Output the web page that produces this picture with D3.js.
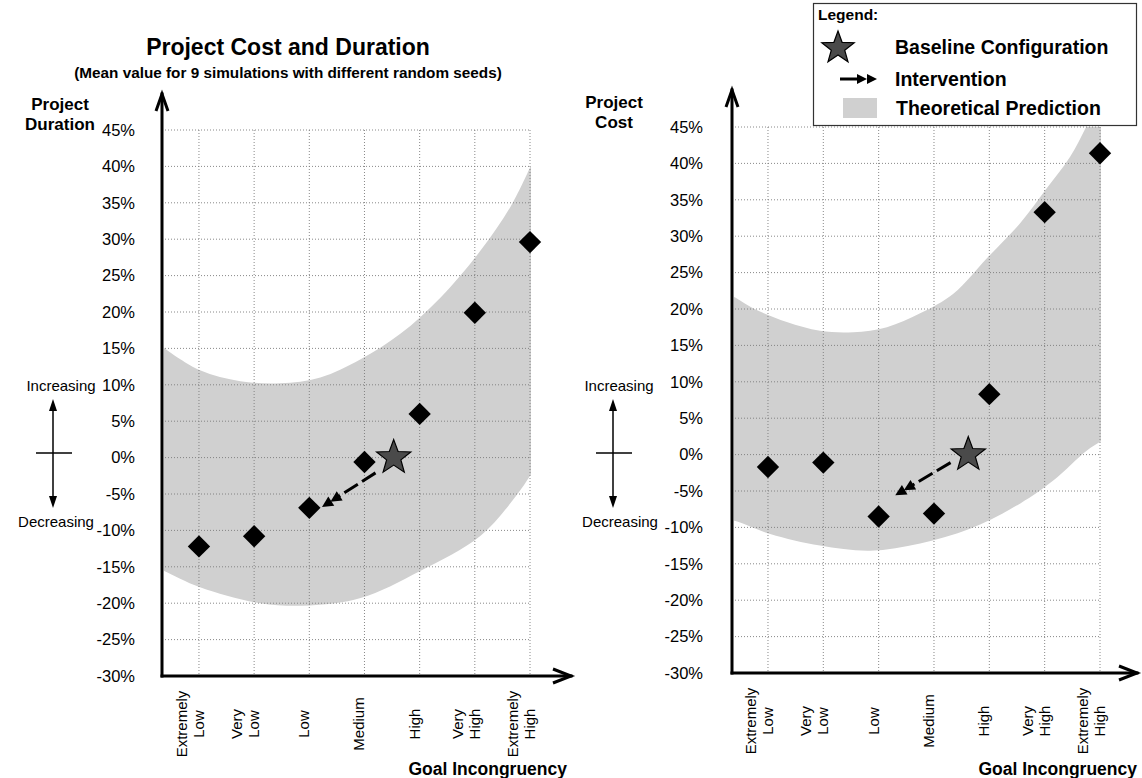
<!DOCTYPE html>
<html><head><meta charset="utf-8">
<script src="https://cdn.jsdelivr.net/npm/d3@7"></script>
<style>
html,body{margin:0;padding:0;background:#fff;}
svg{display:block;font-family:"Liberation Sans",Arial,Helvetica,sans-serif;}
</style></head>
<body>
<svg id="chart" width="1142" height="778"></svg>
<script>
// ---------------- DATA ----------------
const categoryLines = [["Extremely","Low"],["Very","Low"],["Low"],["Medium"],["High"],["Very","High"],["Extremely","High"]];
const yTicks = [45,40,35,30,25,20,15,10,5,0,-5,-10,-15,-20,-25,-30];

const durationValues = [-12.2, -10.8, -6.9, -0.6, 6.0, 19.9, 29.6];
const costValues     = [-1.7, -1.1, -8.5, -8.1, 8.3, 33.3, 41.4];

// baseline configuration (category position, value)
const durationBaseline = [3.53, 0];
const costBaseline     = [3.62, 0];

// intervention arrows: [start, tip] as [category position, value]
const durationArrow = [[3.2, -2.1], [2.23, -6.8]];
const costArrow     = [[3.3, -1.1], [2.3, -5.6]];

// theoretical prediction band boundaries [category position, value]
const durationBandUpper = [[-0.7,15.5],[-0.62,15],[0.02,12],[0.75,10.5],[1.47,10.2],[2.2,11],[2.93,13.5],[3.65,17],[4.38,22],[5.11,28.5],[5.65,34.5],[6.04,40.5]];
const durationBandLower = [[-0.7,-15.3],[-0.62,-15.6],[0.02,-17.8],[1.11,-20],[2.01,-20.3],[2.93,-19.3],[4.0,-15.6],[5.11,-10.7],[5.83,-4.4],[6.04,-2]];
const costBandUpper = [[-0.7,22],[-0.6,21.6],[-0.27,20.1],[0.34,18.2],[0.94,17],[1.54,16.8],[2.15,17.5],[2.75,19.4],[3.35,22.1],[3.96,27],[4.56,31.8],[5.01,36.3],[5.46,40.9],[5.85,46.5],[6.1,50]];
const costBandLower = [[-0.7,-9],[-0.6,-9.1],[0.04,-10.9],[0.94,-12.5],[1.85,-13.2],[2.75,-12.2],[3.65,-10.2],[4.56,-6.7],[5.15,-3.6],[5.77,0.6],[6.1,2.2]];

// ---------------- DRAW ----------------
const svg = d3.select("#chart");
const BAND = "#d0d0d0";

function starPath(cx, cy, R, r){
  const pts=[];
  for(let k=0;k<10;k++){
    const a = -Math.PI/2 + k*Math.PI/5;
    const rad = k%2===0?R:r;
    pts.push([cx+rad*Math.cos(a), cy+rad*Math.sin(a)]);
  }
  return "M"+pts.map(p=>p[0].toFixed(1)+","+p[1].toFixed(1)).join("L")+"Z";
}

function arrowHead(g, tipX, tipY, ang, len, half){
  const bx = tipX - len*Math.cos(ang), by = tipY - len*Math.sin(ang);
  const px = -Math.sin(ang), py = Math.cos(ang);
  g.append("path")
   .attr("d", `M${tipX},${tipY}L${bx+px*half},${by+py*half}L${bx-px*half},${by-py*half}Z`)
   .attr("fill","#000");
}

function panel(cfg){
  const x = d3.scaleLinear().domain([cfg.axisPos, 6]).range([cfg.axisX, cfg.rightX]);
  const y = d3.scaleLinear().domain([-30, 45]).range([cfg.bottomY, cfg.topY]);
  const g = svg.append("g");

  const clipId = "clip"+cfg.id;
  svg.append("clipPath").attr("id",clipId).append("rect")
    .attr("x", cfg.axisX+2).attr("y", y(45)).attr("width", x(6)-cfg.axisX-2+1).attr("height", y(-30)-y(45));

  // band
  const line = d3.line().x(d=>x(d[0])).y(d=>y(d[1])).curve(d3.curveCatmullRom.alpha(0.5));
  const up = line(cfg.bandUpper);
  const lo = line(cfg.bandLower.slice().reverse());
  g.append("path").attr("d", up + "L" + lo.slice(1) + "Z")
    .attr("fill", BAND).attr("clip-path", `url(#${clipId})`);

  // grid
  const grid = g.append("g").attr("stroke","#7a7a7a").attr("stroke-width",0.9).attr("stroke-dasharray","1,2");
  yTicks.forEach(t=>{
    grid.append("line").attr("x1", cfg.axisX).attr("x2", x(6)).attr("y1", y(t)).attr("y2", y(t));
  });
  d3.range(7).forEach(i=>{
    grid.append("line").attr("x1", x(i)).attr("x2", x(i)).attr("y1", y(45)).attr("y2", y(-30));
  });

  // y tick labels via axis
  const ax = g.append("g").attr("transform",`translate(${cfg.axisX},0)`)
    .call(d3.axisLeft(y).tickValues(yTicks).tickSize(0).tickPadding(cfg.tickPad).tickFormat(d=>d+"%"));
  ax.select(".domain").remove();
  ax.selectAll("text").attr("font-size",16.5).attr("font-family","Liberation Sans, Arial, sans-serif").attr("fill","#000");

  // axes lines with arrows
  const axes = g.append("g").attr("stroke","#000").attr("stroke-width",3).attr("fill","none").attr("stroke-linecap","square");
  axes.append("line").attr("x1",cfg.axisX).attr("x2",cfg.axisX).attr("y1",y(-30)).attr("y2",cfg.yTip);
  axes.append("line").attr("x1",cfg.axisX).attr("x2",cfg.xTip).attr("y1",y(-30)).attr("y2",y(-30));
  axes.append("path").attr("d",`M${cfg.axisX-6},${cfg.yTip+17}L${cfg.axisX},${cfg.yTip}L${cfg.axisX+6},${cfg.yTip+17}`).attr("stroke-linecap","butt");
  axes.append("path").attr("d",`M${cfg.xTip-18},${y(-30)-7}L${cfg.xTip},${y(-30)}L${cfg.xTip-18},${y(-30)+7}`).attr("stroke-linecap","butt");

  // diamonds
  const sym = d3.symbol().type(d3.symbolSquare).size(250);
  g.selectAll(".dia").data(cfg.values).enter().append("path")
    .attr("d", sym)
    .attr("transform",(d,i)=>`translate(${x(i)},${y(d)}) rotate(45)`)
    .attr("fill","#000");

  // intervention arrow
  const [s,t] = cfg.arrow;
  const sx=x(s[0]), sy=y(s[1]), tx=x(t[0]), ty=y(t[1]);
  const ang = Math.atan2(ty-sy, tx-sx);
  const ag = g.append("g");
  ag.append("line").attr("x1",sx).attr("y1",sy)
    .attr("x2",tx-14*Math.cos(ang)).attr("y2",ty-14*Math.sin(ang))
    .attr("stroke","#000").attr("stroke-width",3).attr("stroke-dasharray","16,5");
  arrowHead(ag, tx, ty, ang, 11, 5.5);
  arrowHead(ag, tx-10*Math.cos(ang), ty-10*Math.sin(ang), ang, 11, 5.5);

  // baseline star
  g.append("path").attr("d", starPath(x(cfg.baseline[0]), y(cfg.baseline[1]), 18, 7.5))
    .attr("fill","#4a4a4a").attr("stroke","#000").attr("stroke-width",1.2);

  // x category labels (rotated)
  const lab = g.append("g").attr("font-size",15).attr("fill","#000");
  categoryLines.forEach((lines,i)=>{
    const cx = x(i);
    const offs = lines.length===2 ? [-12, 5] : [0];
    lines.forEach((txt,k)=>{
      lab.append("text").text(txt)
        .attr("transform",`translate(${cx+offs[k]},${cfg.labelY}) rotate(-90)`)
        .attr("text-anchor","middle");
    });
  });

  // x axis title
  g.append("text").text("Goal Incongruency").attr("x", cfg.xTitleRight).attr("y", 775)
    .attr("text-anchor","end").attr("font-weight","bold").attr("font-size",17.5);

  // y axis title
  cfg.yTitle.forEach((t,k)=>{
    g.append("text").text(t).attr("x", cfg.yTitleX).attr("y", cfg.yTitleY + k*20)
      .attr("text-anchor","middle").attr("font-weight","bold").attr("font-size",17);
  });

  // increasing / decreasing indicator
  const ind = g.append("g");
  ind.append("text").text("Increasing").attr("x", cfg.indX+cfg.incOff).attr("y", 391).attr("text-anchor","middle").attr("font-size",15);
  ind.append("text").text("Decreasing").attr("x", cfg.indX+cfg.decOff).attr("y", 527).attr("text-anchor","middle").attr("font-size",15);
  ind.append("line").attr("x1",cfg.indX).attr("x2",cfg.indX).attr("y1",408).attr("y2",500).attr("stroke","#000").attr("stroke-width",1.5);
  ind.append("line").attr("x1",cfg.indX-17).attr("x2",cfg.indX+19).attr("y1",453).attr("y2",453).attr("stroke","#000").attr("stroke-width",1.5);
  arrowHead(ind, cfg.indX, 399, -Math.PI/2, 12, 4);
  arrowHead(ind, cfg.indX, 508, Math.PI/2, 12, 4);
}

panel({id:"L", axisX:162, rightX:530, axisPos:-0.67, bottomY:676, topY:130, yTip:94, xTip:571,
  tickPad:27, values:durationValues, baseline:durationBaseline, arrow:durationArrow,
  bandUpper:durationBandUpper, bandLower:durationBandLower, labelY:724, xTitleRight:567,
  yTitle:["Project","Duration"], yTitleX:60, yTitleY:110, indX:53, incOff:8, decOff:3});

panel({id:"R", axisX:732, rightX:1100, axisPos:-0.65, bottomY:673, topY:127, yTip:90, xTip:1137,
  tickPad:29, values:costValues, baseline:costBaseline, arrow:costArrow,
  bandUpper:costBandUpper, bandLower:costBandLower, labelY:721, xTitleRight:1137,
  yTitle:["Project","Cost"], yTitleX:614, yTitleY:108, indX:613, incOff:6, decOff:7});

// title
svg.append("text").text("Project Cost and Duration").attr("x",288).attr("y",55)
  .attr("text-anchor","middle").attr("font-weight","bold").attr("font-size",23);
svg.append("text").text("(Mean value for 9 simulations with different random seeds)").attr("x",288).attr("y",78)
  .attr("text-anchor","middle").attr("font-weight","bold").attr("font-size",15.3);

// legend
const lg = svg.append("g");
lg.append("rect").attr("x",813.5).attr("y",3.5).attr("width",323).attr("height",122)
  .attr("fill","#fff").attr("stroke","#333").attr("stroke-width",1.2);
lg.append("text").text("Legend:").attr("x",818).attr("y",20).attr("font-weight","bold").attr("font-size",15.5);
lg.append("path").attr("d", starPath(838, 48, 17, 7)).attr("fill","#4a4a4a").attr("stroke","#000").attr("stroke-width",1.2);
lg.append("text").text("Baseline Configuration").attr("x",895).attr("y",54).attr("font-weight","bold").attr("font-size",19.5);
lg.append("line").attr("x1",840).attr("x2",858).attr("y1",79).attr("y2",79).attr("stroke","#000").attr("stroke-width",3);
arrowHead(lg, 867, 79, 0, 10, 5);
arrowHead(lg, 877, 79, 0, 10, 5);
lg.append("text").text("Intervention").attr("x",895).attr("y",86).attr("font-weight","bold").attr("font-size",19.5);
lg.append("rect").attr("x",843).attr("y",98).attr("width",34).attr("height",20).attr("fill",BAND);
lg.append("text").text("Theoretical Prediction").attr("x",896).attr("y",115).attr("font-weight","bold").attr("font-size",19.5);
</script>
</body></html>
